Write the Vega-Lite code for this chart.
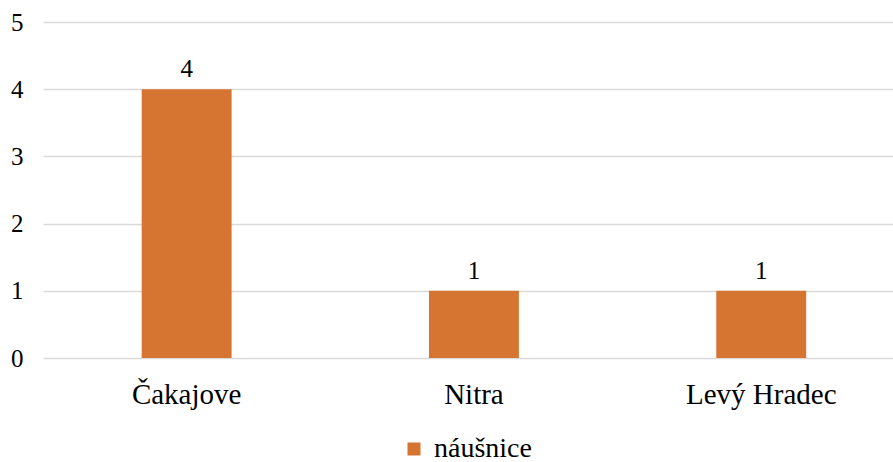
{
  "$schema": "https://vega.github.io/schema/vega-lite/v6.json",
  "width": 850,
  "height": 336,
  "autosize": {"type": "none"},
  "padding": {"left": 43, "top": 22, "right": 0, "bottom": 104},
  "background": "white",
  "config": {
    "view": {"stroke": null},
    "font": "'Liberation Serif', 'Times New Roman', serif"
  },
  "data": {
    "values": [
      {"mesto": "Čakajove", "pocet": 4, "typ": "náušnice"},
      {"mesto": "Nitra", "pocet": 1, "typ": "náušnice"},
      {"mesto": "Levý Hradec", "pocet": 1, "typ": "náušnice"}
    ]
  },
  "encoding": {
    "x": {
      "field": "mesto",
      "type": "nominal",
      "sort": null,
      "scale": {"paddingInner": 0.687, "paddingOuter": 0.3228, "align": 0.532},
      "axis": {
        "title": null,
        "labelAngle": 0,
        "domain": false,
        "ticks": false,
        "labelFont": "'Liberation Serif', 'Times New Roman', serif",
        "labelFontSize": 29,
        "labelColor": "#000000",
        "labelPadding": 22
      }
    },
    "y": {
      "field": "pocet",
      "type": "quantitative",
      "scale": {"domain": [0, 5], "nice": false},
      "axis": {
        "title": null,
        "values": [0, 1, 2, 3, 4, 5],
        "domain": false,
        "ticks": false,
        "grid": true,
        "gridColor": "#d9d9d9",
        "gridWidth": 1.3,
        "labelFont": "'Liberation Serif', 'Times New Roman', serif",
        "labelFontSize": 25,
        "labelColor": "#000000",
        "labelPadding": 20
      }
    }
  },
  "layer": [
    {
      "mark": {"type": "bar"},
      "encoding": {
        "color": {
          "field": "typ",
          "type": "nominal",
          "scale": {"range": ["#D67532"]},
          "legend": {
            "title": null,
            "orient": "none",
            "legendX": 357,
            "legendY": 413,
            "direction": "horizontal",
            "symbolType": "square",
            "symbolSize": 169,
            "symbolStrokeWidth": 0,
            "labelFont": "'Liberation Serif', 'Times New Roman', serif",
            "labelFontSize": 28,
            "labelColor": "#000000",
            "labelOffset": 6
          }
        }
      }
    },
    {
      "mark": {"type": "text", "baseline": "alphabetic", "dy": -12, "font": "'Liberation Serif', 'Times New Roman', serif", "fontSize": 25, "color": "#000000"},
      "encoding": {
        "text": {"field": "pocet", "type": "quantitative"}
      }
    }
  ]
}
